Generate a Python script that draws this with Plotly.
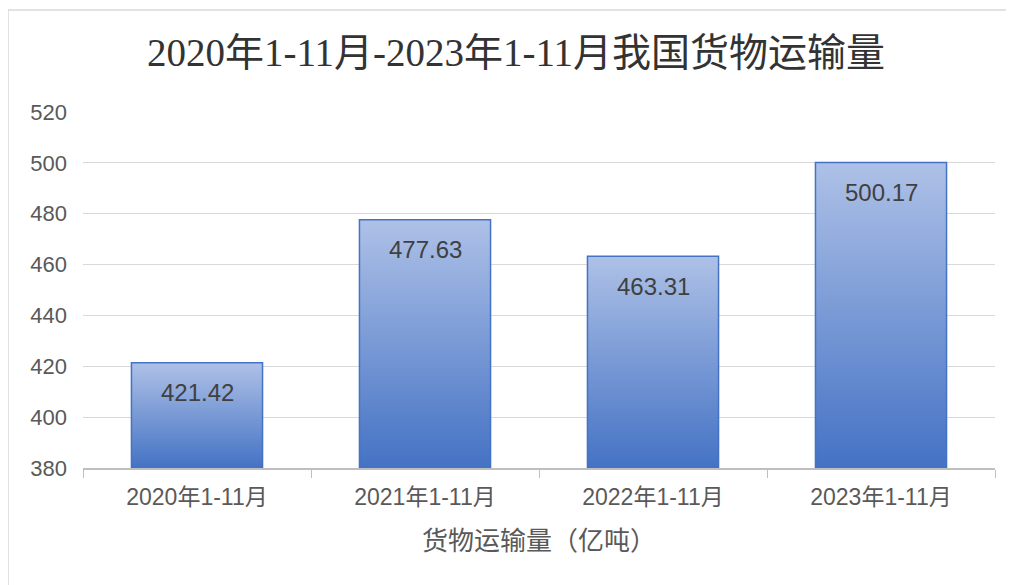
import plotly.graph_objects as go

categories = ["2020年1-11月", "2021年1-11月", "2022年1-11月", "2023年1-11月"]
values = [421.42, 477.63, 463.31, 500.17]
y_ticks = [380, 400, 420, 440, 460, 480, 500, 520]
title_text = "2020年1-11月-2023年1-11月我国货物运输量"
x_title = "货物运输量（亿吨）"

BASE = 380
BAR_W = 0.575
OFF = 8  # page body margin
WIN_W, WIN_H = 1014, 585
W, H = WIN_W - OFF, WIN_H - OFF
# plot area in window pixel coords
PL, PR, PT, PB = 83, 995, 112, 468
L, T = PL - OFF, PT - OFF
R, B = W - (PR - OFF), H - (PB - OFF)

fig = go.Figure()

# gradient-filled bars on hidden numeric axis
for i, v in enumerate(values):
    x0, x1 = i - BAR_W / 2, i + BAR_W / 2
    fig.add_trace(go.Scatter(
        x=[x0, x1, x1, x0, x0], y=[BASE, BASE, v, v, BASE],
        mode="lines", fill="toself",
        line=dict(width=0, color="rgba(0,0,0,0)"),
        fillgradient=dict(type="vertical",
                          colorscale=[[0, "#4472c4"], [1, "#aec1e7"]],
                          start=BASE, stop=v),
        hoverinfo="skip", showlegend=False, xaxis="x", yaxis="y",
    ))

# outline bars on categorical axis (labels / boundary ticks)
fig.add_trace(go.Bar(
    x=categories, y=values, width=BAR_W,
    marker=dict(color="rgba(0,0,0,0)", line=dict(color="#4472c4", width=1.5)),
    showlegend=False, xaxis="x2", yaxis="y",
))

for c, v in zip(categories, values):
    fig.add_annotation(x=c, y=v, xref="x2", yref="y", text=f"{v:.2f}",
                       showarrow=False, yshift=-30,
                       font=dict(family="Liberation Sans, Noto Sans CJK SC", size=24, color="#404040"))

pw, ph = PR - PL, PB - PT
def px(x):
    return (x - PL) / pw
def py(y):
    return (PB - y) / ph

fig.add_shape(type="rect", xref="paper", yref="paper",
              x0=px(8), x1=px(1030), y0=py(600), y1=py(10),
              line=dict(color="#d9d9d9", width=1.5), fillcolor="rgba(0,0,0,0)", layer="below")

fig.update_layout(
    width=W, height=H,
    margin=dict(l=L, r=R, t=T, b=B, autoexpand=False),
    paper_bgcolor="white", plot_bgcolor="white",
    title=dict(text=title_text, x=(516 - OFF) / W, xref="container", xanchor="center",
               y=1 - (52 - OFF) / H, yanchor="middle",
               font=dict(family="Liberation Serif, Noto Sans CJK SC", size=39, color="#333333")),
    xaxis=dict(range=[-0.5, 3.5], visible=False, fixedrange=True),
    xaxis2=dict(type="category", overlaying="x", side="bottom", range=[-0.5, 3.5],
                tickson="boundaries", ticks="outside", ticklen=8, tickcolor="#bfbfbf",
                showline=True, linecolor="#bfbfbf", linewidth=1.5, showgrid=False,
                ticklabelstandoff=8,
                tickfont=dict(family="Liberation Sans, Noto Sans CJK SC", size=23, color="#595959"),
                title=dict(text=x_title, standoff=22,
                           font=dict(family="Noto Sans CJK SC", size=26, color="#595959"))),
    yaxis=dict(range=[380, 520], tickvals=y_ticks, showgrid=True, gridcolor="#d9d9d9", gridwidth=1,
               zeroline=False, showline=False, ticks="", ticklabelstandoff=15,
               tickfont=dict(family="Liberation Sans, Noto Sans CJK SC", size=22, color="#595959")),
    bargap=0.4,
)

fig.write_html("out.html")
